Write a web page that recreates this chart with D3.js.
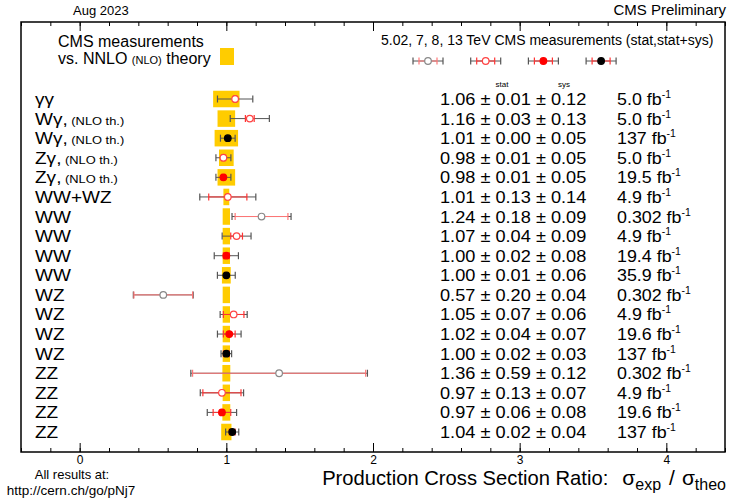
<!DOCTYPE html>
<html>
<head>
<meta charset="utf-8">
<script src="https://cdnjs.cloudflare.com/ajax/libs/d3/7.8.5/d3.min.js"></script>
<style>
  body { margin: 0; background: #fff; }
  text { font-family: "Liberation Sans", Arial, Helvetica, sans-serif; fill: #000; }
</style>
</head>
<body>
<div id="chart"></div>
<script>
// Data
var processes = ["γγ", "Wγ,", "Wγ,", "Zγ,", "Zγ,", "WW+WZ", "WW", "WW", "WW", "WW",
  "WZ", "WZ", "WZ", "WZ", "ZZ", "ZZ", "ZZ", "ZZ"];
var notes = ["", "(NLO th.)", "(NLO th.)", "(NLO th.)", "(NLO th.)", "", "", "", "", "",
  "", "", "", "", "", "", "", ""];
var ratios = [1.06, 1.16, 1.01, 0.98, 0.98, 1.01, 1.24, 1.07, 1.00, 1.00,
  0.57, 1.05, 1.02, 1.00, 1.36, 0.97, 0.97, 1.04];
var statErr = [0.01, 0.03, 0.00, 0.01, 0.01, 0.13, 0.18, 0.04, 0.02, 0.01,
  0.20, 0.07, 0.04, 0.02, 0.59, 0.13, 0.06, 0.02];
var sysErr = [0.12, 0.13, 0.05, 0.05, 0.05, 0.14, 0.09, 0.09, 0.08, 0.06,
  0.04, 0.06, 0.07, 0.03, 0.12, 0.07, 0.08, 0.04];
var theoryErr = [0.09, 0.06, 0.08, 0.05, 0.06, 0.02, 0.025, 0.025, 0.025, 0.03,
  0.025, 0.025, 0.025, 0.025, 0.027, 0.025, 0.027, 0.035];
var lumis = ["5.0", "5.0", "137", "5.0", "19.5", "4.9", "0.302", "4.9", "19.4", "35.9",
  "0.302", "4.9", "19.6", "137", "0.302", "4.9", "19.6", "137"];
var energies = ["7", "7", "13", "7", "8", "7", "5.02", "7", "8", "13",
  "5.02", "7", "8", "13", "5.02", "7", "8", "13"];
var legendEnergies = ["5.02", "7", "8", "13"];
var majorTicks = [0, 1, 2, 3, 4];

// Namespace
var cms = cms || {};

cms.markerStyle = {
  "5.02": { fill: "#fff", stroke: "#888", stat: "#f77" },
  "7":    { fill: "#fff", stroke: "#f44", stat: "#f33" },
  "8":    { fill: "#f00", stroke: "#f00", stat: "#f33" },
  "13":   { fill: "#000", stroke: "#000", stat: "#f33" }
};

cms.margin = { left: 21, top: 22 };
cms.width = 704;
cms.height = 430;

// text helper: ROOT text looks a bit wider than Liberation Sans
cms.text = function(g, x, y, size, sx, anchor) {
  return g.append("text")
    .attr("transform", "translate(" + x + "," + y + ") scale(" + sx + ",1)")
    .attr("font-size", size)
    .attr("text-anchor", anchor || "start");
}

// one error bar (line + caps)
cms.errBar = function(g, cx, cy, lo, hi, color) {
  g.append("line").attr("x1", lo).attr("x2", hi).attr("y1", cy).attr("y2", cy)
    .attr("stroke", color).attr("stroke-width", 1);
  [lo, hi].forEach(function(px) {
    g.append("line").attr("x1", px).attr("x2", px).attr("y1", cy - 3.5).attr("y2", cy + 3.5)
      .attr("stroke", color).attr("stroke-width", 1.2);
  });
}

cms.build = function() {
  var svg = d3.select("#chart").append("svg").attr("width", 730).attr("height", 500);
  var g = svg.append("g").attr("transform",
    "translate(" + cms.margin.left + "," + cms.margin.top + ")");

  var x = d3.scaleLinear().domain([-0.4, 4.4]).range([0, cms.width]);
  var y = d3.scalePoint().domain(d3.range(processes.length)).range([77, 410]);
  var minor = d3.range(-0.4, 4.41, 0.2).map(function(v) { return Math.round(v * 10) / 10; });

  // AXES (inward ticks, bottom and top)
  var bottomMinor = d3.axisBottom(x).tickValues(minor).tickSize(-4).tickFormat("");
  var bottomMajor = d3.axisBottom(x).tickValues(majorTicks).tickSize(-9).tickPadding(3)
    .tickFormat(d3.format("d"));
  var topMinor = d3.axisTop(x).tickValues(minor).tickSize(-4).tickFormat("");
  var topMajor = d3.axisTop(x).tickValues(majorTicks).tickSize(-9).tickFormat("");

  var clean = function(s, keepText) {
    s.select(".domain").remove();
    if (!keepText) s.selectAll("text").remove();
  };
  g.append("g").attr("transform", "translate(0," + cms.height + ")").call(bottomMinor)
    .call(clean, false);
  g.append("g").attr("transform", "translate(0," + cms.height + ")").call(bottomMajor)
    .call(clean, true);
  g.append("g").call(topMinor).call(clean, false);
  g.append("g").call(topMajor).call(clean, false);
  g.selectAll(".tick line").attr("stroke", "#000");
  g.selectAll(".tick text").attr("font-size", 12)
    .attr("font-family", "'Liberation Sans', Arial, sans-serif");

  // THEORY BOXES
  var boxH = 16.5;
  g.append("g").selectAll("rect").data(theoryErr).join("rect")
    .attr("x", function(d) { return x(1 - d); })
    .attr("width", function(d) { return x(1 + d) - x(1 - d); })
    .attr("y", function(d, i) { return y(i) - boxH / 2; })
    .attr("height", boxH)
    .attr("fill", "#ffcc00");

  // MEASUREMENTS
  var marks = g.append("g");
  ratios.forEach(function(r, i) {
    var st = cms.markerStyle[energies[i]];
    var tot = Math.sqrt(statErr[i] * statErr[i] + sysErr[i] * sysErr[i]);
    var cy = y(i);
    cms.errBar(marks, x(r), cy, x(r - tot), x(r + tot), "#555");
    if (statErr[i] > 0) cms.errBar(marks, x(r), cy, x(r - statErr[i]), x(r + statErr[i]), st.stat);
    marks.append("circle").attr("cx", x(r)).attr("cy", cy).attr("r", 3.3)
      .attr("fill", st.fill).attr("stroke", st.stroke).attr("stroke-width", 1.2);
  });

  // ROW TEXTS
  var rows = g.append("g");
  processes.forEach(function(p, i) {
    var cy = y(i) + 6;
    var t = cms.text(rows, 14, cy, 17, 1.12);
    t.append("tspan").text(p);
    if (notes[i]) t.append("tspan").attr("font-size", 11.5).text(" " + notes[i]);

    cms.text(rows, 419, cy, 17, 1.07).text(ratios[i].toFixed(2) + " ± " + statErr[i].toFixed(2)
      + " ± " + sysErr[i].toFixed(2));

    var l = cms.text(rows, 596, cy, 17, 1.05);
    l.append("tspan").text(lumis[i] + " fb");
    l.append("tspan").attr("font-size", 10).attr("dy", -7).text("-1");
  });
  cms.text(rows, 481, 65, 8, 1, "middle").text("stat");
  cms.text(rows, 543, 65, 8, 1, "middle").text("sys");

  // LEGENDS
  var leg = g.append("g");
  cms.text(leg, 37, 25, 16, 1.0).text("CMS measurements");
  var t2 = cms.text(leg, 37, 42, 16, 1.0);
  t2.append("tspan").text("vs. NNLO ");
  t2.append("tspan").attr("font-size", 11).text("(NLO)");
  t2.append("tspan").text(" theory");
  leg.append("rect").attr("x", 199).attr("y", 26).attr("width", 14).attr("height", 17)
    .attr("fill", "#ffcc00");

  cms.text(leg, 360, 23, 14, 1.0).text("5.02, 7, 8, 13 TeV CMS measurements (stat,stat+sys)");
  legendEnergies.forEach(function(e, k) {
    var st = cms.markerStyle[e];
    var cx = 407 + k * 57.7, cy = 39;
    cms.errBar(leg, cx, cy, cx - 15, cx + 15, "#555");
    cms.errBar(leg, cx, cy, cx - 9, cx + 9, st.stat);
    leg.append("circle").attr("cx", cx).attr("cy", cy).attr("r", 3.3)
      .attr("fill", st.fill).attr("stroke", st.stroke).attr("stroke-width", 1.2);
  });

  // FRAME
  g.append("rect").attr("width", cms.width).attr("height", cms.height)
    .attr("fill", "none").attr("stroke", "#000").attr("stroke-width", 1.5);

  // TITLES
  cms.text(svg, 73, 15, 13, 1.0).text("Aug 2023");
  cms.text(svg, 726, 15, 15, 1.0, "end").text("CMS Preliminary");
  cms.text(svg, 72, 479, 13, 1.0, "middle").text("All results at:");
  cms.text(svg, 71, 495, 13.5, 1.0, "middle").text("http://cern.ch/go/pNj7");

  var xt = cms.text(svg, 726, 485, 20.2, 1.0, "end");
  xt.append("tspan").text("Production Cross Section Ratio:");
  xt.append("tspan").attr("font-size", 21).attr("dx", 14).text("σ");
  xt.append("tspan").attr("font-size", 16).attr("dy", 5).text("exp");
  xt.append("tspan").attr("font-size", 21).attr("dx", 8).attr("dy", -5).text("/");
  xt.append("tspan").attr("font-size", 21).attr("dx", 7).text("σ");
  xt.append("tspan").attr("font-size", 16).attr("dy", 5).text("theo");
}

cms.build();
</script>
</body>
</html>
